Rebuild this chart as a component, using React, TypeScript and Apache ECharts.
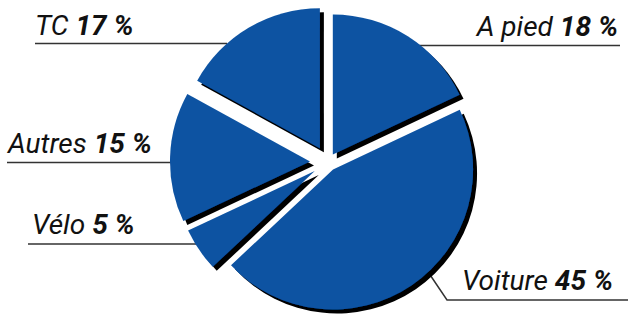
import React, { useEffect, useRef } from "react";
import * as echarts from "echarts";

const categories = ["A pied", "Voiture", "Vélo", "Autres", "TC"];
const values = [18, 45, 5, 15, 17];

// layout / style constants
const CX = 328;
const CY = 162;
const R = 140;
const explode = [9, 9, 16, 18, 16];
const BLUE = "#0b52a2";
const FONT = "Roboto, 'Liberation Sans', sans-serif";
const FS = 28;

type LabelPos = { x: number; y: number; align: string; line: number[][] };
const labelPos: LabelPos[] = [
  { x: 618, y: 40, align: "right", line: [[400, 45.5], [620, 45.5]] },
  { x: 613, y: 294, align: "right", line: [[418, 257], [447, 300], [628, 300]] },
  { x: 32, y: 238, align: "left", line: [[28, 244], [200, 244]] },
  { x: 8, y: 157, align: "left", line: [[7, 162.5], [183, 162.5]] },
  { x: 35, y: 39, align: "left", line: [[35, 43.5], [227, 43.5]] },
];

export default function App() {
  const ref = useRef<HTMLDivElement>(null);
  useEffect(() => {
    if (!ref.current) return;
    const chart = echarts.init(ref.current, undefined, { renderer: "svg" });
    const total = values.reduce((a, b) => a + b, 0);
    let cum = 0;
    const series = values.map((v, i) => {
      const mid = ((cum + v / 2) / total) * Math.PI * 2;
      cum += v;
      const dx = Math.sin(mid) * explode[i];
      const dy = -Math.cos(mid) * explode[i];
      return {
        type: "pie",
        radius: R,
        center: [CX + dx, CY + dy],
        startAngle: 90,
        clockwise: true,
        silent: true,
        avoidLabelOverlap: false,
        emphasis: { disabled: true },
        label: {
          position: "outside",
          formatter: "{n|{b}}{s| }{p|{c} %}",
          rich: {
            n: { fontFamily: FONT, fontSize: FS, fontStyle: "italic", fontWeight: "normal", color: "#111" },
            s: { fontFamily: FONT, fontSize: FS, color: "#111" },
            p: { fontFamily: FONT, fontSize: FS, fontStyle: "italic", fontWeight: "bold", color: "#111" },
          },
        },
        labelLine: { show: true, lineStyle: { color: "#333", width: 1.5 } },
        labelLayout: (p: any) => {
          const lp = labelPos[p.dataIndex];
          return {
            x: lp.x,
            y: lp.y,
            align: lp.align,
            verticalAlign: "bottom",
            labelLinePoints: lp.line,
          };
        },
        data: categories.map((name, j) => ({
          name,
          value: values[j],
          itemStyle:
            j === i
              ? {
                  color: BLUE,
                  shadowColor: "#000",
                  shadowBlur: 0,
                  shadowOffsetX: 4,
                  shadowOffsetY: 4,
                }
              : { color: "rgba(0,0,0,0)", shadowColor: "rgba(0,0,0,0)", borderWidth: 0 },
          label: { show: j === i },
          labelLine: { show: j === i },
        })),
      };
    });
    chart.setOption({
      animation: false,
      backgroundColor: "#fff",
      series,
    } as any);
    return () => chart.dispose();
  }, []);
  return (
    <div
      ref={ref}
      style={{ position: "fixed", left: 0, top: 0, width: 630, height: 318 }}
    />
  );
}
